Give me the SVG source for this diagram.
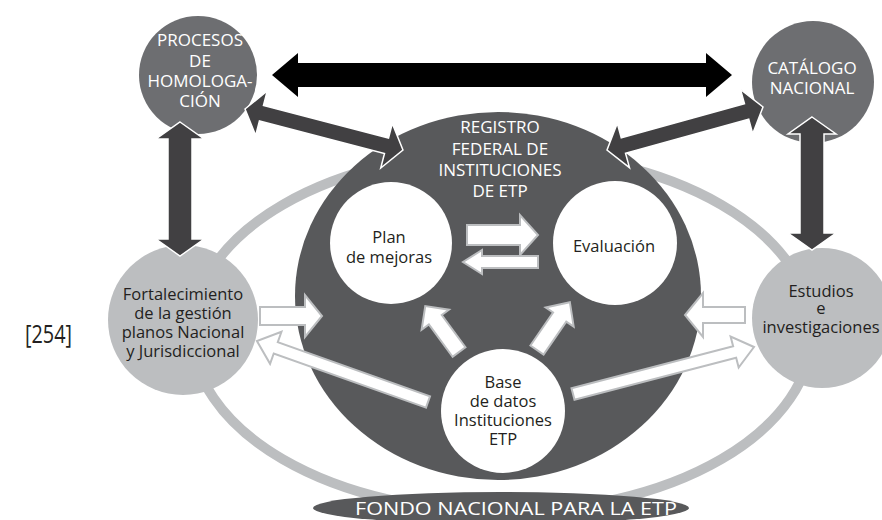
<svg xmlns="http://www.w3.org/2000/svg" width="882" height="520" viewBox="0 0 882 520">
<style>
.t{font-family:"Open Sans","Noto Sans","DejaVu Sans",sans-serif;font-weight:400;text-anchor:middle}
.w{fill:#fff;font-size:17px}
.k{fill:#231f20;font-size:16.5px}
.dk{fill:#414042;stroke:#fff;stroke-width:1.5;stroke-linejoin:miter}
.wa{fill:#fff;stroke:#bcbec0;stroke-width:2;stroke-linejoin:miter}
.mid{fill:#6d6e71}
.lt{fill:#bcbec0}
.wc{fill:#fff}
</style>
<g id="ring">
<ellipse cx="502" cy="332" rx="310" ry="180" fill="none" stroke="#bcbec0" stroke-width="10"/>
</g>
<g id="registro">
<ellipse cx="498" cy="296" rx="203" ry="184" fill="#58595b"/>
<text class="t w" x="500"><tspan x="500" y="133">REGISTRO</tspan><tspan x="500" y="155">FEDERAL DE</tspan><tspan x="500" y="176">INSTITUCIONES</tspan><tspan x="500" y="197">DE ETP</tspan></text>
</g>
<g id="fondo">
<ellipse cx="501" cy="508" rx="188" ry="16" fill="#58595b"/>
<text class="t w" x="355" y="515" style="text-anchor:start;font-size:19px" textLength="322" lengthAdjust="spacingAndGlyphs">FONDO NACIONAL PARA LA ETP</text>
</g>
<g id="procesos">
<circle cx="198" cy="75" r="59" class="mid"/>
<text class="t w"><tspan x="200" y="46">PROCESOS</tspan><tspan x="200" y="67">DE</tspan><tspan x="200" y="87">HOMOLOGA-</tspan><tspan x="200" y="107">CIÓN</tspan></text>
</g>
<g id="catalogo">
<circle cx="813" cy="82" r="61" class="mid"/>
<text class="t w"><tspan x="812" y="74">CATÁLOGO</tspan><tspan x="812" y="94">NACIONAL</tspan></text>
</g>
<g id="fortalecimiento">
<circle cx="183" cy="320" r="75" class="lt"/>
<text class="t k"><tspan x="183" y="300">Fortalecimiento</tspan><tspan x="183" y="319">de la gestión</tspan><tspan x="183" y="338">planos Nacional</tspan><tspan x="183" y="357">y Jurisdiccional</tspan></text>
</g>
<g id="estudios">
<circle cx="822" cy="318" r="70" class="lt"/>
<text class="t k"><tspan x="821" y="297">Estudios</tspan><tspan x="821" y="314">e</tspan><tspan x="821" y="333">investigaciones</tspan></text>
</g>
<g id="plan">
<circle cx="391" cy="243" r="61" class="wc"/>
<text class="t k"><tspan x="389" y="243">Plan</tspan><tspan x="389" y="263">de mejoras</tspan></text>
</g>
<g id="evaluacion">
<circle cx="615" cy="243" r="62" class="wc"/>
<text class="t k" x="614" y="252">Evaluación</text>
</g>
<g id="base">
<circle cx="503" cy="411" r="62" class="wc"/>
<text class="t k"><tspan x="503" y="388">Base</tspan><tspan x="503" y="407">de datos</tspan><tspan x="503" y="426">Instituciones</tspan><tspan x="503" y="445">ETP</tspan></text>
</g>
<g id="pagenum">
<text x="25" y="343" textLength="47" lengthAdjust="spacingAndGlyphs" style="font-family:'Open Sans','Noto Sans',sans-serif;font-size:25px;fill:#231f20">[254]</text>
</g>
<g id="connectors">
<polygon points="272,75 298,53 298,63 706,63 706,53 732,75 706,97 706,87 298,87 298,97" fill="#000"/>
<polygon class="dk" points="0,0 17,-23 17,-8 146.2,-8 146.2,-23 163.2,0 146.2,23 146.2,8 17,8 17,23" transform="translate(245,109) rotate(14.55)"/>
<polygon class="dk" points="0,0 17,-23 17,-8 144.8,-8 144.8,-23 161.8,0 144.8,23 144.8,8 17,8 17,23" transform="translate(607,150) rotate(-15.4)"/>
<polygon class="dk" points="0,0 17,-24 17,-12 117,-12 117,-24 134,0 117,24 117,12 17,12 17,24" transform="translate(180,122) rotate(90)"/>
<polygon class="dk" points="0,0 17,-24 17,-12 116,-12 116,-24 133,0 116,24 116,12 17,12 17,24" transform="translate(812,117) rotate(90)"/>
<polygon class="wa" points="467,225 520,225 520,215 538,235 520,255 520,245 467,245"/>
<polygon class="wa" points="538,256 482,256 482,250 463,262 482,274 482,268 538,268"/>
<polygon class="wa" points="260,307 305,307 305,295 322,316 305,337 305,325 260,325"/>
<polygon class="wa" points="745,307 703,307 703,293 685,315 703,337 703,323 745,323"/>
<polygon class="wa" points="0,-6 161.6,-6 161.6,-17 181.6,0 161.6,17 161.6,6 0,6" transform="translate(428,402) rotate(199.6)"/>
<polygon class="wa" points="0,-6 167,-6 167,-16 187,0 167,16 167,6 0,6" transform="translate(573,394) rotate(-14.56)"/>
<polygon class="wa" points="0,-8 40,-8 40,-17 57,0 40,17 40,8 0,8" transform="translate(459,352) rotate(-126.3)"/>
<polygon class="wa" points="0,-8 40,-8 40,-17 58,0 40,17 40,8 0,8" transform="translate(537,350) rotate(-55.5)"/>
</g>
</svg>
